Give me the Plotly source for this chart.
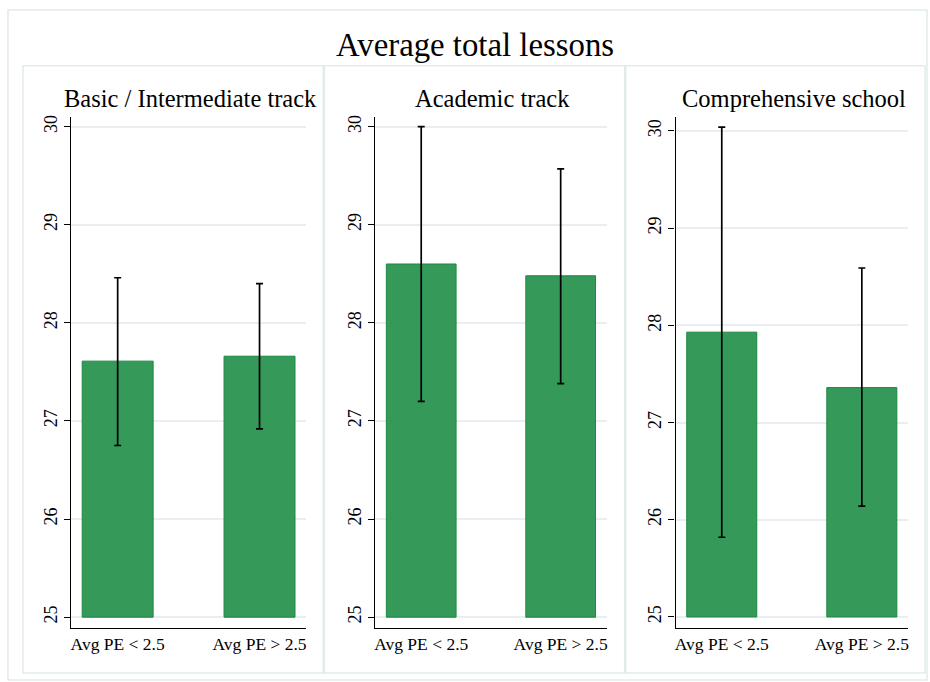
import plotly.graph_objects as go

# Category labels and panel titles
categories = ["Avg PE < 2.5", "Avg PE > 2.5"]
panel_titles = ["Basic / Intermediate track", "Academic track", "Comprehensive school"]

# Mean total lessons with confidence interval bounds, per school type
basic_mean = [27.61, 27.66]
basic_low = [26.75, 26.92]
basic_high = [28.46, 28.40]

academic_mean = [28.60, 28.48]
academic_low = [27.20, 27.38]
academic_high = [30.00, 29.57]

compr_mean = [27.93, 27.36]
compr_low = [25.82, 26.14]
compr_high = [30.04, 28.59]

y_ticks = [25, 26, 27, 28, 29, 30]
bar_base = 25

W, H = 930, 682
FONT = "Liberation Serif"
BAR_FILL = "#35995a"
BAR_LINE = "#1a8840"
GRID = "#e8eef1"
FRAME = "#e2ebeb"


def px_x(p):
    return p / W


def px_y(p):
    return 1 - p / H


panels = [
    dict(mean=basic_mean, low=basic_low, high=basic_high,
         xdom=(70, 306), yrange=[24.888, 30.102], box=(22, 323)),
    dict(mean=academic_mean, low=academic_low, high=academic_high,
         xdom=(375, 607), yrange=[24.888, 30.102], box=(324, 625)),
    dict(mean=compr_mean, low=compr_low, high=compr_high,
         xdom=(676, 909), yrange=[24.885, 30.147], box=(626, 926)),
]

fig = go.Figure()
layout = dict(
    width=W, height=H, autosize=False,
    margin=dict(l=0, r=0, t=0, b=0),
    paper_bgcolor="white", plot_bgcolor="white",
    showlegend=False,
    font=dict(family=FONT, color="black"),
    shapes=[], annotations=[],
)

ydom = [px_y(628), px_y(115)]

for i, p in enumerate(panels):
    sfx = "" if i == 0 else str(i + 1)
    xa, ya = "x" + sfx, "y" + sfx

    fig.add_trace(go.Bar(
        x=categories,
        y=[m - bar_base for m in p["mean"]],
        base=[bar_base] * len(p["mean"]),
        width=0.5,
        marker=dict(color=BAR_FILL, line=dict(color=BAR_LINE, width=1)),
        xaxis=xa, yaxis=ya,
        hoverinfo="skip",
    ))
    fig.add_trace(go.Scatter(
        x=categories,
        y=p["mean"],
        mode="markers",
        marker=dict(size=1, opacity=0),
        error_y=dict(
            type="data", symmetric=False,
            array=[h - m for h, m in zip(p["high"], p["mean"])],
            arrayminus=[m - l for m, l in zip(p["mean"], p["low"])],
            color="black", thickness=1.7, width=3.5,
        ),
        xaxis=xa, yaxis=ya,
    ))

    layout["xaxis" + sfx] = dict(
        domain=[px_x(p["xdom"][0]), px_x(p["xdom"][1])],
        anchor=ya,
        type="category",
        range=[-0.33, 1.33],
        showline=True, linecolor="black", linewidth=1.3,
        ticks="", showgrid=False, zeroline=False,
        tickfont=dict(family=FONT, size=17.5, color="black"),
        fixedrange=True,
    )
    layout["yaxis" + sfx] = dict(
        domain=ydom,
        anchor=xa,
        range=p["yrange"],
        tickvals=y_ticks,
        ticktext=[str(t) for t in y_ticks],
        tickangle=-90,
        ticks="outside", ticklen=6, tickwidth=1.3, tickcolor="black",
        showline=True, linecolor="black", linewidth=1.3,
        showgrid=True, gridcolor=GRID, gridwidth=1.5,
        zeroline=False,
        tickfont=dict(family=FONT, size=18, color="black"),
        fixedrange=True,
    )

    # panel frame
    bx0, bx1 = p["box"]
    layout["shapes"].append(dict(
        type="rect", xref="paper", yref="paper",
        x0=px_x(bx0), x1=px_x(bx1), y0=px_y(673), y1=px_y(64),
        line=dict(color=FRAME, width=1.5), fillcolor="rgba(0,0,0,0)",
        layer="below",
    ))
    # panel title
    layout["annotations"].append(dict(
        text=panel_titles[i], xref="paper", yref="paper",
        x=px_x((p["xdom"][0] + p["xdom"][1]) / 2 + 2), y=px_y(97),
        xanchor="center", yanchor="middle", showarrow=False,
        font=dict(family=FONT, size=24.5, color="black"),
    ))

# outer frame
layout["shapes"].append(dict(
    type="rect", xref="paper", yref="paper",
    x0=px_x(7), x1=px_x(928), y0=px_y(680), y1=px_y(8),
    line=dict(color=FRAME, width=1.5), fillcolor="rgba(0,0,0,0)",
    layer="below",
))

# overall title
layout["annotations"].append(dict(
    text="Average total lessons", xref="paper", yref="paper",
    x=px_x(475.5), y=px_y(43),
    xanchor="center", yanchor="middle", showarrow=False,
    font=dict(family=FONT, size=32.8, color="black"),
))

fig.update_layout(**layout)
fig.write_html("out.html")
